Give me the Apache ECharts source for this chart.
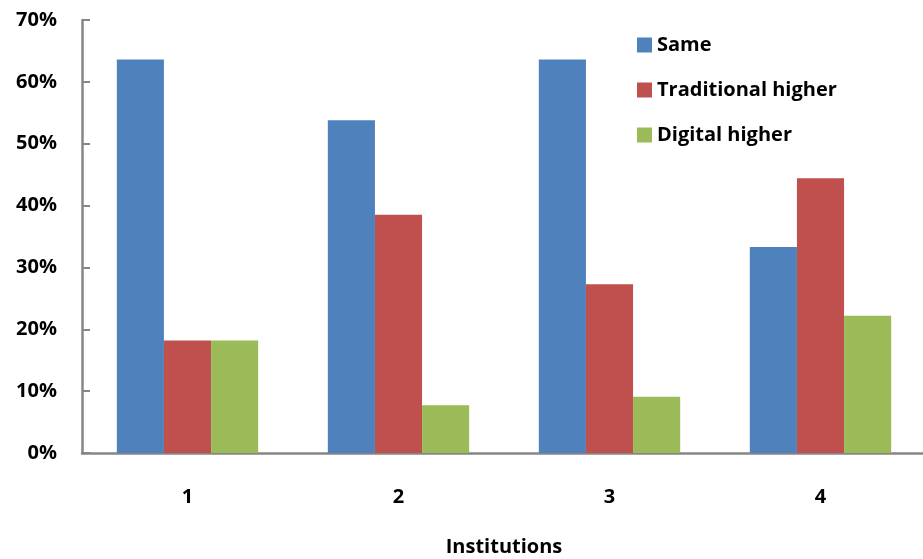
<!DOCTYPE html>
<html>
<head>
<meta charset="utf-8">
<script src="https://cdn.jsdelivr.net/npm/echarts@6/dist/echarts.min.js"></script>
<style>
  html, body { margin: 0; padding: 0; background: #fff; }
  #chart { width: 923px; height: 559px; }
</style>
</head>
<body>
<div id="chart"></div>
<script>
// Share of responses per institution (%)
const institutions = ['1', '2', '3', '4'];
const sameValues = [63.6, 53.8, 63.6, 33.3];
const traditionalHigher = [18.2, 38.5, 27.3, 44.4];
const digitalHigher = [18.2, 7.7, 9.1, 22.2];
const yTicks = [0, 10, 20, 30, 40, 50, 60, 70];

const FONT = '"Open Sans", Lato, sans-serif';
const AXIS_GREY = '#868686';
const TEXT = { fontFamily: FONT, fontWeight: 'bold', fontSize: 20, color: '#000' };

const chart = echarts.init(document.getElementById('chart'));
chart.setOption({
  animation: false,
  textStyle: { fontFamily: FONT },
  grid: { left: 82, right: -3, top: 20, bottom: 106, containLabel: false, outerBoundsMode: 'none' },
  legend: {
    orient: 'vertical',
    left: 637,
    top: 35,
    padding: 0,
    itemWidth: 15,
    itemHeight: 15,
    itemGap: 25,
    icon: 'rect',
    textStyle: Object.assign({}, TEXT),
    data: ['Same', 'Traditional higher', 'Digital higher']
  },
  xAxis: {
    type: 'category',
    data: institutions,
    name: 'Institutions',
    nameLocation: 'middle',
    nameGap: 84,
    nameTextStyle: Object.assign({}, TEXT),
    axisLine: { lineStyle: { color: AXIS_GREY, width: 2.5 } },
    axisTick: { inside: true, length: 7, lineStyle: { color: AXIS_GREY, width: 2.5 } },
    axisLabel: Object.assign({ margin: 34 }, TEXT)
  },
  yAxis: {
    type: 'value',
    min: yTicks[0],
    max: yTicks[yTicks.length - 1],
    interval: 10,
    axisLine: { show: true, lineStyle: { color: AXIS_GREY, width: 2.5 } },
    axisTick: { show: true, inside: true, length: 8, lineStyle: { color: AXIS_GREY, width: 2 } },
    splitLine: { show: false },
    axisLabel: Object.assign({ margin: 25, formatter: v => v + '%' }, TEXT)
  },
  series: [
    { name: 'Same', type: 'bar', data: sameValues, barGap: '0%', barCategoryGap: '33%',
      itemStyle: { color: '#4F81BD' } },
    { name: 'Traditional higher', type: 'bar', data: traditionalHigher,
      itemStyle: { color: '#C0504D' } },
    { name: 'Digital higher', type: 'bar', data: digitalHigher,
      itemStyle: { color: '#9BBB59' } }
  ]
});
</script>
</body>
</html>
